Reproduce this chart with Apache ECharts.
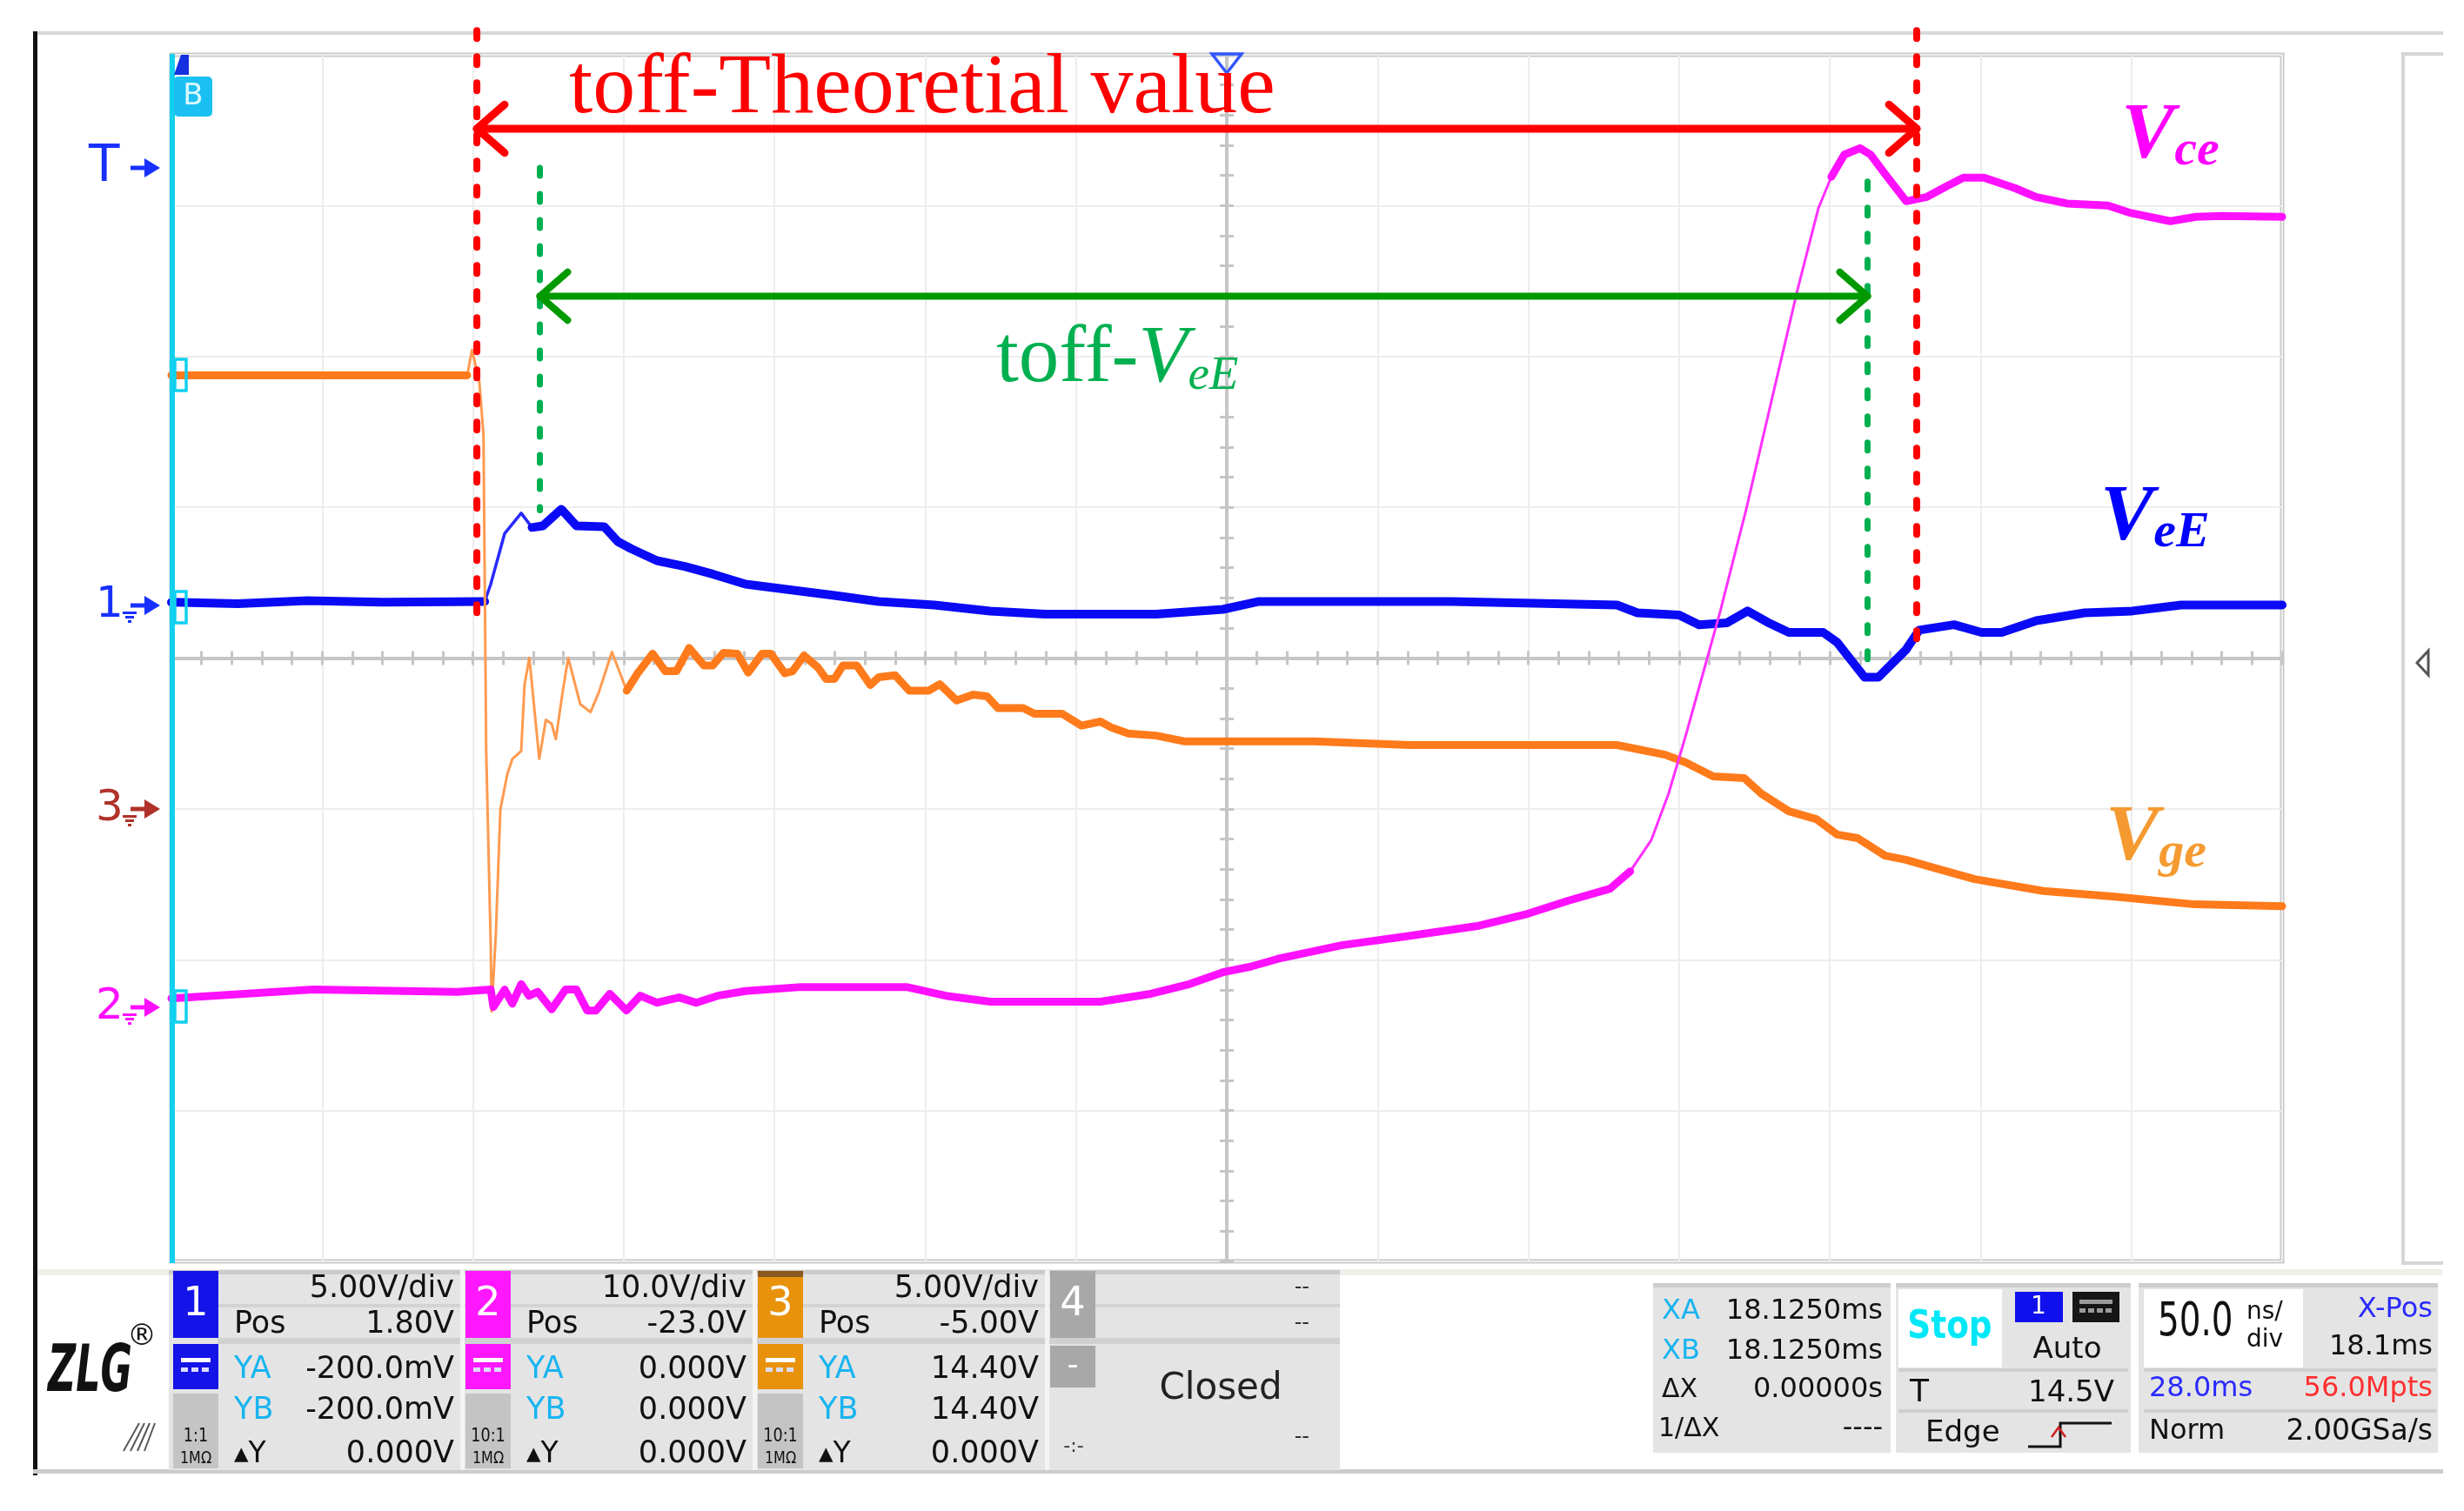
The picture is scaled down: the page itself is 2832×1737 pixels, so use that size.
<!DOCTYPE html>
<html>
<head>
<meta charset="utf-8">
<title>toff waveform</title>
<script src="https://cdn.jsdelivr.net/npm/echarts/dist/echarts.min.js"></script>
<style>
html, body { margin: 0; padding: 0; background: #fff; }
#main { width: 2832px; height: 1737px; }
</style>
</head>
<body>
<div id="main"></div>
<script>
// time in ns (50 ns/div, 14 div), level in screen divisions (-4..4)
var blueTrace = [
  [0, 0.37], [22, 0.36], [45, 0.38], [70, 0.37], [103.9, 0.375], [105.9, 0.49], [110.5, 0.825],
  [116, 0.961], [119.6, 0.866], [123.2, 0.877], [129.3, 0.987], [134.3, 0.877], [143.5, 0.871],
  [148, 0.773], [152.6, 0.724], [161, 0.646], [170.2, 0.608], [179.5, 0.557], [190.4, 0.49],
  [205.1, 0.453], [219.9, 0.415], [234.6, 0.375], [253, 0.352], [271.5, 0.312], [289.8, 0.291],
  [326.6, 0.291], [348.7, 0.323], [360.7, 0.375], [424.7, 0.375], [479.4, 0.352], [486.2, 0.3],
  [500, 0.286], [506.6, 0.221], [515.9, 0.234], [522.7, 0.312], [529.4, 0.237], [536.4, 0.17],
  [547.8, 0.17], [552.4, 0.105], [561.5, -0.127], [566.1, -0.127], [575.2, 0.054], [579.6, 0.185],
  [591.2, 0.221], [600.3, 0.17], [607, 0.17], [618.5, 0.248], [634.5, 0.3], [650.3, 0.312],
  [666.5, 0.352], [700, 0.352]
];
var orangeTrace = [
  [0, 1.875], [98.1, 1.875], [99.7, 2.043], [102.1, 1.835], [103.5, 1.483], [104.4, -0.617],
  [105.9, -1.904], [106.2, -2.343], [107.6, -1.827], [109.1, -1.002], [111.4, -0.77], [113.1, -0.668],
  [116, -0.617], [117.1, -0.179], [118.7, 0.002], [120.6, -0.384], [122, -0.668], [124.2, -0.41],
  [126.1, -0.436], [127.5, -0.537], [129.7, -0.23], [131.6, 0.002], [135.6, -0.306], [139, -0.358],
  [141.7, -0.23], [146.1, 0.04], [151, -0.216], [154.6, -0.101], [159.6, 0.029], [163.8, -0.087],
  [167.5, -0.087], [171.7, 0.067], [176.6, -0.049], [179.5, -0.049], [183.1, 0.035], [187.7, 0.029],
  [191.3, -0.096], [195.9, 0.029], [198.8, 0.029], [203.4, -0.101], [206, -0.087], [209.8, 0.017],
  [214.4, -0.062], [217.1, -0.138], [219.9, -0.138], [222.7, -0.049], [227.3, -0.049], [231.8, -0.179],
  [234.6, -0.127], [240, -0.114], [244.7, -0.216], [251.2, -0.216], [254.8, -0.173], [260.4, -0.281],
  [265.9, -0.242], [270.5, -0.254], [274.1, -0.332], [282.5, -0.332], [286.2, -0.369], [295.4, -0.369],
  [301.8, -0.448], [308.1, -0.421], [311.9, -0.462], [317.4, -0.5], [326.6, -0.514], [335.8, -0.552],
  [354.3, -0.552], [379, -0.552], [410.8, -0.577], [479.4, -0.577], [495.4, -0.641], [502.2, -0.692],
  [511.3, -0.784], [521.6, -0.796], [527.3, -0.899], [536.4, -1.016], [545.5, -1.068], [552.4, -1.17],
  [559.2, -1.194], [568.3, -1.31], [575.2, -1.337], [584.3, -1.389], [598, -1.466], [620.8, -1.544],
  [643.6, -1.581], [671, -1.633], [700, -1.645]
];
var magentaTrace = [
  [0, -2.256], [47, -2.198], [94.8, -2.213], [105.9, -2.198], [106.8, -2.314], [110.5, -2.198],
  [113.1, -2.291], [116, -2.162], [118.6, -2.239], [121.5, -2.213], [126.1, -2.329], [130.7, -2.198],
  [134.3, -2.198], [137.9, -2.337], [140.8, -2.337], [145.4, -2.226], [150.9, -2.337], [155.5, -2.239],
  [161, -2.285], [168.4, -2.25], [174, -2.285], [181.2, -2.239], [190.4, -2.208], [208.9, -2.181],
  [243.8, -2.181], [256.8, -2.239], [271.5, -2.278], [308.1, -2.278], [324.8, -2.226], [337.6, -2.162],
  [348.7, -2.083], [357.9, -2.046], [367, -1.994], [375.9, -1.956], [388.1, -1.904], [410.8, -1.841],
  [433.6, -1.775], [449.7, -1.696], [463.4, -1.608], [477.1, -1.529], [483.8, -1.414], [490.8, -1.206],
  [496.5, -0.9], [502.2, -0.514], [505.9, -0.248], [513.6, 0.306], [522.2, 0.981], [530.8, 1.72],
  [539.4, 2.452], [546.2, 2.983], [550.5, 3.191], [554.8, 3.338], [560, 3.381], [563.5, 3.338],
  [568.5, 3.205], [575.3, 3.029], [582.2, 3.058], [589.2, 3.133], [594.3, 3.185], [601.1, 3.185],
  [611.4, 3.116], [618.3, 3.058], [628.6, 3.014], [642.2, 3.001], [649.2, 2.954], [662.9, 2.897],
  [671.4, 2.926], [680, 2.931], [700, 2.926]
];

// cursor marks of the two toff spans
var redCursorT = [101.3, 578.8];
var redCursorTop = [4.16, 4.16];
var redCursorBottom = [0.26, 0.06];
var redArrowY = 3.51;
var greenCursorT = [122.2, 562.5];
var greenCursorTop = [3.25, 3.16];
var greenCursorBottom = [0.98, -0.12];
var greenArrowY = 2.4;

// readout panel
var chScale = ['5.00V/div', '10.0V/div', '5.00V/div'];
var chPos = ['1.80V', '-23.0V', '-5.00V'];
var chYA = ['-200.0mV', '0.000V', '14.40V'];
var chYB = ['-200.0mV', '0.000V', '14.40V'];
var chDY = ['0.000V', '0.000V', '0.000V'];
var chProbe = ['1:1', '10:1', '10:1'];
var chColor = ['#1414e8', '#ff18ff', '#e8920c'];

var FONT_UI = 'DejaVu Sans, Liberation Sans, sans-serif';
var FONT_SERIF = 'Liberation Serif, Times New Roman, serif';

var chart = echarts.init(document.getElementById('main'));

// thick noisy band outside (lo, hi), the thin fast edge is drawn under it
function outside(points, lo, hi) {
  return points.map(function (p) {
    return (p[0] > lo && p[0] < hi) ? [p[0], '-'] : p;
  });
}
function trace(data, color, width, z) {
  return {
    type: 'line', data: data, symbol: 'none', silent: true, z: z,
    lineStyle: { color: color, width: width, join: 'round', cap: 'round' }
  };
}
function mark(data, color, width, dash) {
  return {
    type: 'line', data: data, symbol: 'none', silent: true, clip: false, z: 6,
    lineStyle: { color: color, width: width, type: dash || 'solid', cap: 'round', join: 'round' }
  };
}
function arrowSeries(ts, y, color, width) {
  var dx = 9.2, dy = 0.16;
  return [
    mark([[ts[0], y], [ts[1], y]], color, width),
    mark([[ts[0] + dx, y + dy], [ts[0], y], [ts[0] + dx, y - dy]], color, width),
    mark([[ts[1] - dx, y + dy], [ts[1], y], [ts[1] - dx, y - dy]], color, width)
  ];
}

var series = [
  trace(blueTrace, '#2828ff', 3.5, 2),
  trace(outside(blueTrace, 104.5, 117), '#0a0af5', 10, 2),
  trace(orangeTrace, '#ff9a50', 3, 3),
  trace(outside(orangeTrace, 99, 150), '#ff7a1a', 9, 3),
  trace(magentaTrace, '#ff30ff', 3, 4),
  trace(outside(magentaTrace, 484, 547), '#ff10ff', 9, 4)
];
redCursorT.forEach(function (t, i) {
  series.push(mark([[t, redCursorTop[i]], [t, redCursorBottom[i]]], '#ff0000', 8, [9, 21]));
});
greenCursorT.forEach(function (t, i) {
  series.push(mark([[t, greenCursorTop[i]], [t, greenCursorBottom[i]]], '#00b050', 7, [9, 21]));
});
series = series.concat(arrowSeries(redCursorT, redArrowY, '#ff0000', 9));
series = series.concat(arrowSeries(greenCursorT, greenArrowY, '#009a00', 8));

// ---- graphic helpers ----
function rect(x, y, w, h, fill, z) {
  return { type: 'rect', silent: true, z: z || 1, shape: { x: x, y: y, width: w, height: h }, style: { fill: fill } };
}
function txt(x, y, s, size, color, align, opt) {
  opt = opt || {};
  var el = {
    type: 'text', silent: true, z: opt.z || 3, x: x, y: y,
    style: {
      text: s, fill: color,
      font: (opt.style || 'normal') + ' ' + (opt.weight || 'normal') + ' ' + size + 'px ' + (opt.family || FONT_UI),
      align: align || 'left', textAlign: align || 'left',
      verticalAlign: 'middle', textVerticalAlign: 'middle'
    }
  };
  if (opt.sx) el.scaleX = opt.sx;
  return el;
}
function richTxt(x, y, s, color, rich) {
  return {
    type: 'text', silent: true, z: 12, x: x, y: y,
    style: { text: s, fill: color, rich: rich, align: 'left', verticalAlign: 'middle' }
  };
}
function serifPart(size, italic, bold) {
  return {
    fontFamily: FONT_SERIF, fontSize: size, fontStyle: italic ? 'italic' : 'normal',
    fontWeight: bold ? 'bold' : 'normal', verticalAlign: 'bottom'
  };
}
function marker(y, s, color, ground) {
  var out = [txt(ground ? 110 : 102, y, s, ground ? 50 : 58, color, 'left', { z: 10 })];
  out.push(rect(150, y - 2.5, 20, 5, color, 10));
  out.push({ type: 'polygon', silent: true, z: 10, shape: { points: [[166, y - 11], [184, y], [166, y + 11]] }, style: { fill: color } });
  if (ground) {
    out.push(rect(141, y + 7, 16, 3, color, 10));
    out.push(rect(144, y + 12, 10, 3, color, 10));
    out.push(rect(147, y + 17, 4, 3, color, 10));
  }
  return out;
}
function bracket(y) {
  return { type: 'rect', silent: true, z: 11, shape: { x: 201, y: y - 18, width: 13, height: 36 }, style: { fill: 'rgba(0,0,0,0)', stroke: '#10d0f0', lineWidth: 3.5 } };
}

var els = [];
// frame
els.push(rect(38, 36, 2770, 4, '#d8d8d8'));
els.push(rect(38, 36, 5, 1660, '#111111'));
els.push(rect(43, 1459, 2764, 7, '#efefe8'));
els.push(rect(38, 1689, 2770, 5, '#cccccc'));
els.push(rect(2760, 60, 4, 1394, '#d6d6d6'));
els.push(rect(2760, 60, 48, 4, '#d6d6d6'));
els.push(rect(2760, 1450, 48, 4, '#d6d6d6'));
els.push({ type: 'polygon', silent: true, z: 5, shape: { points: [[2791, 748], [2791, 776], [2778, 762]] }, style: { fill: '#ffffff', stroke: '#555555', lineWidth: 3 } });

// cursor line and channel tags on the left
els.push(rect(195, 62, 6, 1390, '#12d0ee', 10));
els.push({ type: 'polygon', silent: true, z: 11, shape: { points: [[200, 86], [217, 86], [217, 63], [208, 63]] }, style: { fill: '#1430e0' } });
els.push({ type: 'rect', silent: true, z: 11, shape: { x: 200, y: 88, width: 44, height: 46, r: 5 }, style: { fill: '#1ac0f2' } });
els.push(txt(222, 111, 'B', 34, '#d8f8ff', 'center', { z: 12 }));
els.push(bracket(431), bracket(698), bracket(1157));
els = els.concat(marker(193, 'T', '#1830ff', false));
els = els.concat(marker(696, '1', '#1830ff', true));
els = els.concat(marker(930, '3', '#b0322a', true));
els = els.concat(marker(1158, '2', '#ff10ff', true));
els.push({ type: 'polygon', silent: true, z: 10, shape: { points: [[1393, 62], [1427, 62], [1410, 84]] }, style: { fill: 'rgba(255,255,255,0)', stroke: '#3355ff', lineWidth: 3.5 } });

// annotations
els.push(txt(654, 103, 'toff-Theoretial value', 98, '#ff0000', 'left', { family: FONT_SERIF, z: 12 }));
els.push(richTxt(1145, 414, '{a|toff-}{b|V}{c|eE}', '#00b050', { a: serifPart(93, false, false), b: serifPart(93, true, false), c: serifPart(55, true, false) }));
els.push(richTxt(2438, 157, '{a|V}{b|ce}', '#ff00ff', { a: serifPart(92, true, true), b: serifPart(58, true, true) }));
els.push(richTxt(2414, 596, '{a|V}{b|eE}', '#0000ff', { a: serifPart(92, true, true), b: serifPart(58, true, true) }));
els.push(richTxt(2420, 964, '{a|V}{b|ge}', '#f59a30', { a: serifPart(92, true, true), b: serifPart(58, true, true) }));

// channel readout panel
els.push(rect(194, 1460, 1346, 230, '#e4e4e4', 1));
els.push(rect(194, 1460, 1346, 5, '#cbcbcb', 2));
els.push(rect(250, 1499, 1290, 4, '#d3d3d3', 2));
els.push(rect(250, 1538, 1290, 7, '#d0d0d0', 2));
for (var i = 0; i < 3; i++) {
  var bx = 199 + 336 * i, rx = bx + 323, lx = bx + 70;
  els.push(rect(bx + 330, 1460, 5, 230, '#f4f4f4', 2));
  els.push(rect(bx, 1461, 52, 77, chColor[i], 2));
  if (i === 2) els.push(rect(bx, 1461, 52, 7, '#8a5a1e', 2));
  els.push(txt(bx + 26, 1500, String(i + 1), 46, '#ffffff', 'center'));
  els.push(rect(bx, 1545, 52, 52, chColor[i], 2));
  els.push(rect(bx + 9, 1561, 34, 5, '#ffffff', 3));
  for (var k = 0; k < 3; k++) els.push(rect(bx + 9 + k * 12, 1572, 8, 5, '#dcdcff', 3));
  els.push(rect(bx, 1602, 52, 86, '#c4c4c4', 2));
  els.push(txt(bx + 26, 1651, chProbe[i], 22, '#111111', 'center', { sx: 0.8 }));
  els.push(txt(bx + 26, 1677, '1M\u03a9', 20, '#111111', 'center', { sx: 0.8 }));
  els.push(txt(rx, 1482, chScale[i], 35, '#111111', 'right'));
  els.push(txt(lx, 1523, 'Pos', 35, '#111111'));
  els.push(txt(rx, 1523, chPos[i], 35, '#111111', 'right'));
  els.push(txt(lx, 1575, 'YA', 35, '#18b4f0'));
  els.push(txt(rx, 1575, chYA[i], 35, '#111111', 'right'));
  els.push(txt(lx, 1622, 'YB', 35, '#18b4f0'));
  els.push(txt(rx, 1622, chYB[i], 35, '#111111', 'right'));
  els.push(txt(lx, 1672, '\u25b4Y', 33, '#111111'));
  els.push(txt(rx, 1672, chDY[i], 35, '#111111', 'right'));
}
els.push(rect(1207, 1461, 52, 77, '#a8a8a8', 2));
els.push(txt(1233, 1500, '4', 46, '#ffffff', 'center'));
els.push(rect(1207, 1547, 52, 48, '#a8a8a8', 2));
els.push(txt(1233, 1571, '-', 36, '#ffffff', 'center'));
els.push(txt(1505, 1481, '--', 24, '#333333', 'right'));
els.push(txt(1505, 1522, '--', 24, '#333333', 'right'));
els.push(txt(1505, 1653, '--', 24, '#333333', 'right'));
els.push(txt(1234, 1663, '-:-', 22, '#333333', 'center'));
els.push(txt(1403, 1597, 'Closed', 42, '#222222', 'center'));

// logo
els.push(txt(55, 1580, 'ZLG', 74, '#111111', 'left', { weight: 'bold', style: 'italic', sx: 0.6 }));
els.push(txt(163, 1537, '\u00ae', 34, '#111111', 'center'));
for (var h = 0; h < 4; h++) {
  els.push({ type: 'line', silent: true, z: 3, shape: { x1: 142 + h * 8, y1: 1668, x2: 160 + h * 6, y2: 1636 }, style: { stroke: '#555555', lineWidth: 2 } });
}

// cursor readout
els.push(rect(1900, 1475, 273, 195, '#e4e4e4', 1));
els.push(rect(1900, 1475, 273, 5, '#cdcdcd', 2));
els.push(txt(1910, 1508, 'XA', 32, '#18b4f0'));
els.push(txt(2164, 1508, '18.1250ms', 32, '#111111', 'right'));
els.push(txt(1910, 1554, 'XB', 32, '#18b4f0'));
els.push(txt(2164, 1554, '18.1250ms', 32, '#111111', 'right'));
els.push(txt(1910, 1598, '\u0394X', 30, '#111111'));
els.push(txt(2164, 1598, '0.00000s', 32, '#111111', 'right'));
els.push(txt(1906, 1643, '1/\u0394X', 30, '#111111'));
els.push(txt(2164, 1643, '----', 32, '#111111', 'right'));

// trigger readout
els.push(rect(2179, 1475, 270, 195, '#e4e4e4', 1));
els.push(rect(2179, 1475, 270, 5, '#cdcdcd', 2));
els.push(rect(2182, 1482, 119, 90, '#ffffff', 2));
els.push(txt(2241, 1527, 'Stop', 44, '#00e8f8', 'center', { weight: 'bold', sx: 0.85 }));
els.push(rect(2316, 1485, 55, 35, '#1010ee', 2));
els.push(txt(2343, 1503, '1', 28, '#ffffff', 'center'));
els.push(rect(2382, 1485, 54, 35, '#161616', 2));
els.push(rect(2390, 1494, 38, 5, '#9a9a9a', 3));
for (var d = 0; d < 4; d++) els.push(rect(2390 + d * 10, 1504, 7, 5, '#9a9a9a', 3));
els.push(txt(2376, 1552, 'Auto', 34, '#111111', 'center'));
els.push(rect(2182, 1573, 264, 4, '#cfcfcf', 2));
els.push(rect(2182, 1620, 264, 4, '#cfcfcf', 2));
els.push(txt(2195, 1602, 'T', 36, '#111111'));
els.push(txt(2430, 1602, '14.5V', 34, '#111111', 'right'));
els.push(txt(2213, 1648, 'Edge', 34, '#111111'));
els.push({ type: 'polyline', silent: true, z: 3, shape: { points: [[2331, 1663], [2368, 1663], [2368, 1636], [2427, 1636]] }, style: { stroke: '#111111', lineWidth: 3, fill: null } });
els.push({ type: 'polyline', silent: true, z: 3, shape: { points: [[2358, 1652], [2366, 1641], [2374, 1652]] }, style: { stroke: '#d02020', lineWidth: 2.5, fill: null } });

// timebase readout
els.push(rect(2458, 1475, 344, 195, '#e4e4e4', 1));
els.push(rect(2458, 1475, 344, 5, '#cdcdcd', 2));
els.push(rect(2464, 1482, 183, 90, '#ffffff', 2));
els.push(txt(2480, 1521, '50.0', 54, '#111111', 'left', { sx: 0.72 }));
els.push(txt(2582, 1509, 'ns/', 28, '#111111'));
els.push(txt(2582, 1541, 'div', 28, '#111111'));
els.push(txt(2796, 1506, 'X-Pos', 32, '#2a2aff', 'right'));
els.push(txt(2796, 1549, '18.1ms', 32, '#111111', 'right'));
els.push(rect(2464, 1573, 336, 4, '#cfcfcf', 2));
els.push(rect(2464, 1620, 336, 4, '#cfcfcf', 2));
els.push(txt(2470, 1597, '28.0ms', 32, '#2a2aff'));
els.push(txt(2796, 1597, '56.0Mpts', 32, '#ff3030', 'right'));
els.push(txt(2470, 1646, 'Norm', 32, '#111111'));
els.push(txt(2796, 1646, '2.00GSa/s', 33, '#111111', 'right'));

var centerTick = { show: true, length: 8, lineStyle: { color: '#c6c6c6', width: 3 } };
var centerLine = { show: true, lineStyle: { color: '#c6c6c6', width: 4 } };

var option = {
  animation: false,
  backgroundColor: '#ffffff',
  grid: {
    left: 197, top: 63, width: 2426, height: 1387,
    show: true, borderColor: '#c8c8c8', borderWidth: 5, backgroundColor: 'rgba(0,0,0,0)'
  },
  xAxis: [
    { type: 'value', min: 0, max: 700, interval: 50, position: 'bottom',
      axisLine: { show: false, onZero: false }, axisTick: { show: false }, axisLabel: { show: false },
      splitLine: { show: true, lineStyle: { color: '#ededed', width: 2 } } },
    { type: 'value', min: 0, max: 700, interval: 10, position: 'bottom',
      axisLine: Object.assign({ onZero: true, onZeroAxisIndex: 0 }, centerLine),
      axisTick: Object.assign({ inside: true }, centerTick),
      axisLabel: { show: false }, splitLine: { show: false } },
    { type: 'value', min: 0, max: 700, interval: 10, position: 'bottom',
      axisLine: Object.assign({ onZero: true, onZeroAxisIndex: 0 }, centerLine),
      axisTick: Object.assign({ inside: false }, centerTick),
      axisLabel: { show: false }, splitLine: { show: false } },
    { type: 'value', min: -350, max: 350, show: false, position: 'top',
      axisLine: { onZero: false }, splitLine: { show: false } }
  ],
  yAxis: [
    { type: 'value', min: -4, max: 4, interval: 1, position: 'left',
      axisLine: { show: false, onZero: false }, axisTick: { show: false }, axisLabel: { show: false },
      splitLine: { show: true, lineStyle: { color: '#ededed', width: 2 } } },
    { type: 'value', min: -4, max: 4, interval: 0.2, position: 'left',
      axisLine: Object.assign({ onZero: true, onZeroAxisIndex: 3 }, centerLine),
      axisTick: Object.assign({ inside: true }, centerTick),
      axisLabel: { show: false }, splitLine: { show: false } },
    { type: 'value', min: -4, max: 4, interval: 0.2, position: 'left',
      axisLine: Object.assign({ onZero: true, onZeroAxisIndex: 3 }, centerLine),
      axisTick: Object.assign({ inside: false }, centerTick),
      axisLabel: { show: false }, splitLine: { show: false } }
  ],
  graphic: { elements: els },
  series: series
};
chart.setOption(option);
</script>
</body>
</html>
